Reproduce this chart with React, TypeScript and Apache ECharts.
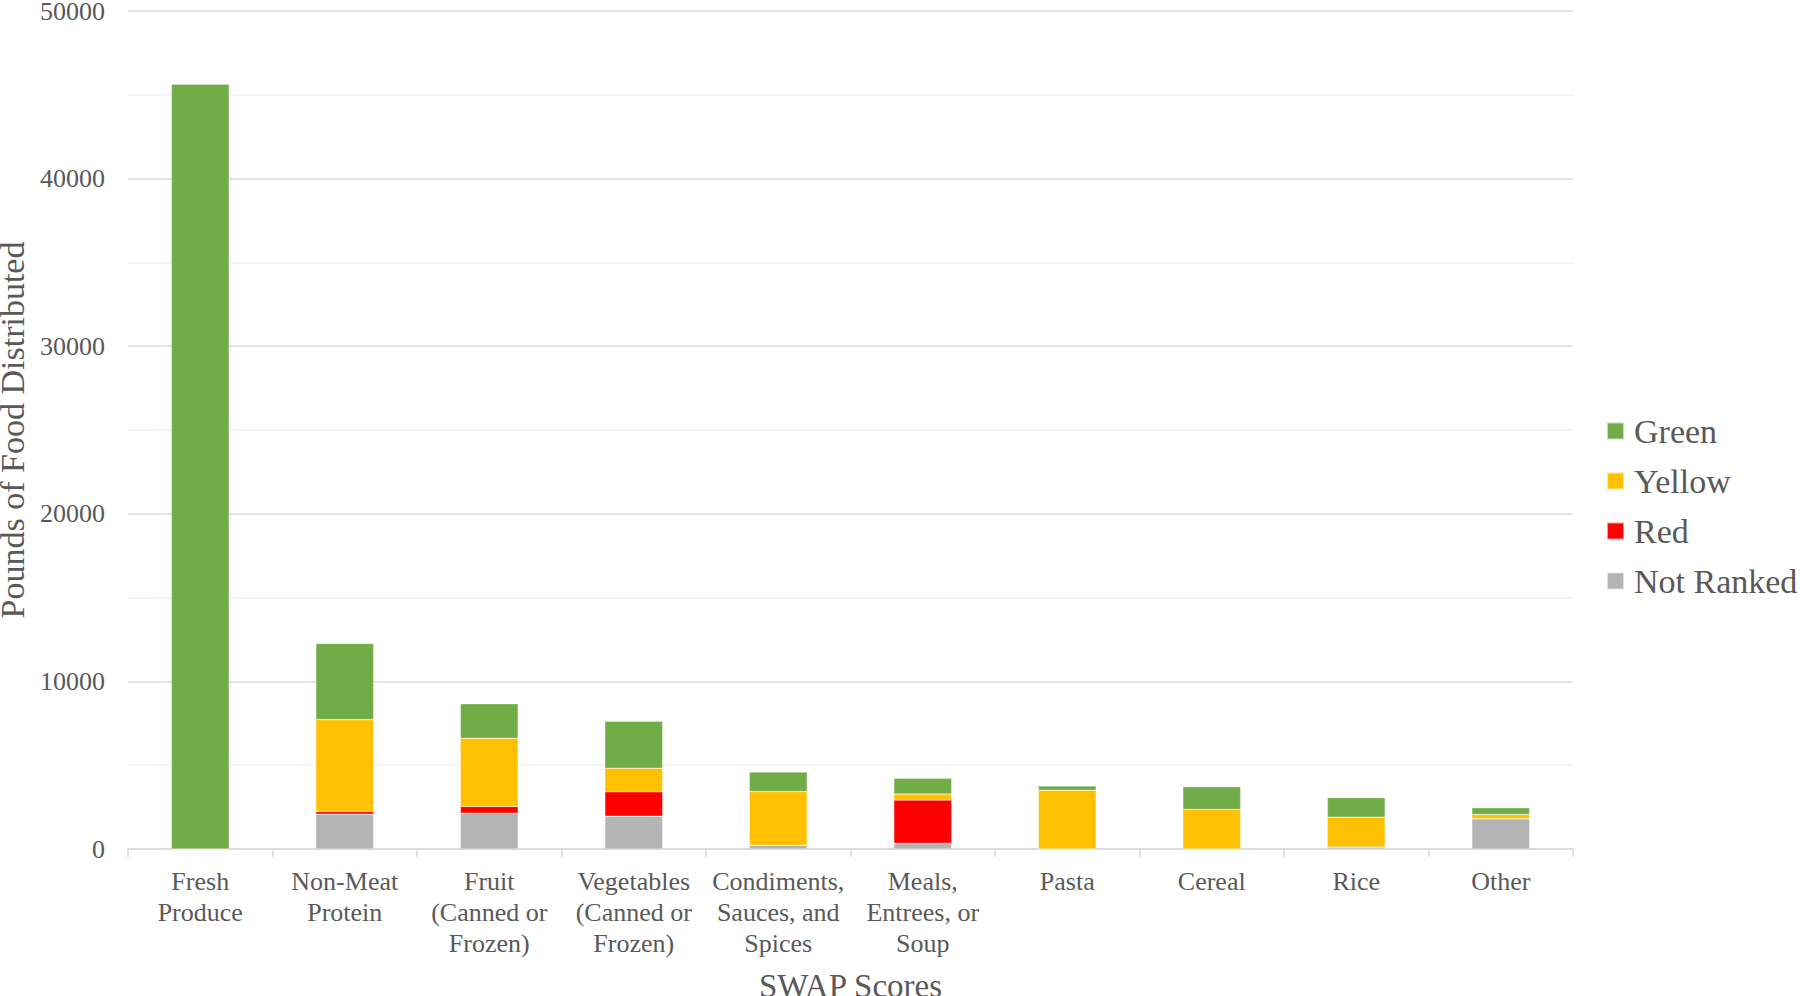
import React, { useEffect, useRef } from "react";
import * as echarts from "echarts";

const categories = [
  "Fresh\nProduce",
  "Non-Meat\nProtein",
  "Fruit\n(Canned or\nFrozen)",
  "Vegetables\n(Canned or\nFrozen)",
  "Condiments,\nSauces, and\nSpices",
  "Meals,\nEntrees, or\nSoup",
  "Pasta",
  "Cereal",
  "Rice",
  "Other",
];

const notRanked = [0, 2080, 2140, 1960, 220, 340, 0, 0, 120, 1800];
const red = [0, 160, 400, 1450, 0, 2580, 0, 0, 0, 0];
const yellow = [0, 5480, 4070, 1410, 3210, 360, 3500, 2360, 1780, 260];
const green = [45630, 4540, 2060, 2800, 1170, 940, 260, 1360, 1160, 400];

const legendOrder = ["Green", "Yellow", "Red", "Not Ranked"];

const FONT = "'Liberation Serif', 'Times New Roman', serif";
const TEXT = "#595959";

export default function App() {
  const ref = useRef<HTMLDivElement>(null);

  useEffect(() => {
    document.body.style.margin = "0";
    if (!ref.current) return;
    const chart = echarts.init(ref.current, null, { renderer: "svg" });
    const mk = (name: string, data: number[], color: string) => ({
      name,
      type: "bar",
      stack: "total",
      data,
      barCategoryGap: "60%",
      itemStyle: { color, borderColor: "rgba(255,255,255,0.6)", borderWidth: 0.5 },
    });
    chart.setOption({
      animation: false,
      textStyle: { fontFamily: FONT },
      grid: {
        left: 128,
        right: 227,
        top: 11,
        bottom: 147,
        containLabel: false,
        outerBoundsMode: "none",
      },
      legend: {
        orient: "vertical",
        left: 1601,
        top: 409,
        data: legendOrder,
        itemWidth: 17,
        itemHeight: 17,
        itemGap: 16,
        icon: "rect",
        textStyle: {
          fontFamily: FONT,
          fontSize: 34,
          color: TEXT,
          lineHeight: 34,
          padding: [0, 0, 0, 5],
        },
      },
      xAxis: {
        type: "category",
        data: categories,
        name: "SWAP Scores",
        nameLocation: "middle",
        nameGap: 120,
        nameTextStyle: { fontFamily: FONT, fontSize: 33, color: TEXT },
        axisLine: { show: true, lineStyle: { color: "#d9d9d9", width: 1.5 } },
        axisTick: { show: true, length: 8, lineStyle: { color: "#d9d9d9", width: 1.5 } },
        axisLabel: {
          interval: 0,
          margin: 17,
          fontFamily: FONT,
          fontSize: 26,
          lineHeight: 31,
          color: TEXT,
        },
      },
      yAxis: {
        type: "value",
        min: 0,
        max: 50000,
        interval: 10000,
        name: "Pounds of Food Distributed",
        nameLocation: "middle",
        nameGap: 89,
        nameTextStyle: { fontFamily: FONT, fontSize: 34, color: TEXT },
        axisLine: { show: false },
        axisTick: { show: false },
        axisLabel: {
          margin: 23,
          fontFamily: FONT,
          fontSize: 26,
          color: TEXT,
          formatter: (v: number) => String(v),
        },
        splitLine: { show: true, lineStyle: { color: "#d9d9d9", width: 1.5 } },
        minorTick: { show: false, splitNumber: 2 },
        minorSplitLine: { show: true, lineStyle: { color: "#f0f0f0", width: 1.5 } },
      },
      series: [
        mk("Not Ranked", notRanked, "#B4B4B4"),
        mk("Red", red, "#FF0000"),
        mk("Yellow", yellow, "#FFC000"),
        mk("Green", green, "#70AD47"),
      ],
    });
    return () => chart.dispose();
  }, []);

  return <div ref={ref} style={{ width: 1800, height: 996 }} />;
}
